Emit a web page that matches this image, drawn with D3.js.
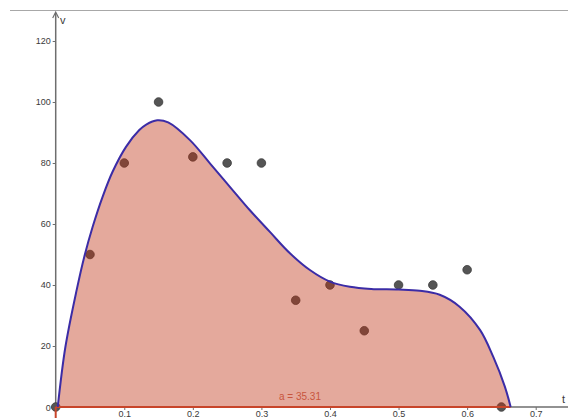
<!DOCTYPE html>
<html>
<head>
<meta charset="utf-8">
<script src="https://cdn.jsdelivr.net/npm/d3@7"></script>
<style>
  html, body { margin: 0; padding: 0; background: #fff; }
  svg { display: block; font-family: "Liberation Sans", Arial, sans-serif; }
</style>
</head>
<body>
<div id="chart"></div>
<script>
// measured points (t, v)
const pointT = [0, 0.05, 0.1, 0.15, 0.2, 0.25, 0.3, 0.35, 0.4, 0.45, 0.5, 0.55, 0.6, 0.65];
const pointV = [0, 50, 80, 100, 82, 80, 80, 35, 40, 25, 40, 40, 45, 0];

// fitted curve
const curveT = [0.003, 0.014, 0.0306, 0.0417, 0.0539, 0.0685, 0.0831, 0.1025, 0.1219, 0.132, 0.148, 0.164,
  0.1958, 0.2249, 0.254, 0.2832, 0.3124, 0.3416, 0.3707, 0.3999, 0.429, 0.46, 0.5, 0.531, 0.56,
  0.589, 0.619, 0.638, 0.655, 0.6635];
const curveV = [0, 19.5, 38.4, 49.3, 59.1, 69.0, 77.2, 85.3, 90.8, 92.6, 94.0, 93.3,
  87.5, 79.9, 72.2, 64.5, 57.4, 50.4, 44.9, 41.1, 39.4, 38.7, 38.5, 38.1, 36.8,
  32.9, 25.2, 16.5, 6.7, 0];

const xTicks = [0.1, 0.2, 0.3, 0.4, 0.5, 0.6, 0.7];
const yTicks = [20, 40, 60, 80, 100, 120];
const areaLabel = 'a = 35.31';

const width = 568, height = 418;

const svg = d3.select('#chart').append('svg')
  .attr('width', width)
  .attr('height', height);

const x = d3.scaleLinear().domain([0, 0.7]).range([55.7, 535.7]);
const y = d3.scaleLinear().domain([0, 120]).range([407, 41]);

// top frame line
svg.append('line')
  .attr('x1', 10).attr('x2', width)
  .attr('y1', 10.5).attr('y2', 10.5)
  .attr('stroke', '#a8a8a8').attr('stroke-width', 1);

// axes lines
const axisColor = '#6e6e6e';
svg.append('line')
  .attr('x1', x(0)).attr('x2', width)
  .attr('y1', y(0)).attr('y2', y(0))
  .attr('stroke', axisColor).attr('stroke-width', 1.5);
svg.append('line')
  .attr('x1', x(0)).attr('x2', x(0))
  .attr('y1', y(0)).attr('y2', 13)
  .attr('stroke', axisColor).attr('stroke-width', 1.5);
svg.append('path')
  .attr('d', `M${x(0) - 3},18 L${x(0)},12 L${x(0) + 3},18`)
  .attr('fill', 'none').attr('stroke', axisColor).attr('stroke-width', 1.2);

// tick marks + labels
const yAxis = d3.axisLeft(y).tickValues(yTicks).tickSize(3).tickPadding(2);
const gy = svg.append('g').attr('transform', `translate(${x(0)},0)`).call(yAxis);
const xAxis = d3.axisBottom(x).tickValues(xTicks).tickSize(3).tickPadding(1).tickFormat(d3.format('.1f'));
const gx = svg.append('g').attr('transform', `translate(0,${y(0)})`).call(xAxis);
[gx, gy].forEach(g => {
  g.select('.domain').remove();
  g.selectAll('line').attr('stroke', axisColor).attr('stroke-width', 1);
  g.selectAll('text').attr('fill', '#3a3a3a').style('font-size', '9px')
    .style('font-family', '"Liberation Sans", Arial, sans-serif');
});
svg.append('text')
  .attr('x', x(0) - 5).attr('y', y(0) + 3.5)
  .attr('text-anchor', 'end')
  .attr('fill', '#3a3a3a').style('font-size', '9px')
  .text('0');

svg.append('text').attr('x', 60).attr('y', 24)
  .attr('fill', '#3a3a3a').style('font-size', '11px').text('v');
svg.append('text').attr('x', 562).attr('y', 403)
  .attr('fill', '#3a3a3a').style('font-size', '11px').text('t');

// points (drawn below the shaded area)
const pts = pointT.map((t, i) => ({ t, v: pointV[i] }));
svg.append('g')
  .selectAll('circle')
  .data(pts)
  .enter().append('circle')
    .attr('cx', d => x(d.t))
    .attr('cy', d => y(d.v))
    .attr('r', 4.3)
    .attr('fill', '#555555')
    .attr('stroke', '#3a3a3a')
    .attr('stroke-width', 0.8);

// shaded integral region
const curve = curveT.map((t, i) => ({ t, v: curveV[i] }));
const smooth = d3.curveCatmullRom.alpha(0.5);
const area = d3.area()
  .x(d => x(d.t))
  .y0(y(0))
  .y1(d => y(d.v))
  .curve(smooth);
svg.append('path')
  .datum(curve)
  .attr('d', area)
  .attr('fill', 'rgb(190,50,20)')
  .attr('fill-opacity', 0.42);

// bottom edge of region
svg.append('line')
  .attr('x1', x(0)).attr('x2', x(curveT[curveT.length - 1]))
  .attr('y1', y(0)).attr('y2', y(0))
  .attr('stroke', '#c8452a').attr('stroke-width', 2);
svg.append('line')
  .attr('x1', x(0)).attr('x2', x(0))
  .attr('y1', y(0)).attr('y2', height)
  .attr('stroke', '#c8452a').attr('stroke-width', 2);

// fitted curve
const line = d3.line()
  .x(d => x(d.t))
  .y(d => y(d.v))
  .curve(smooth);
svg.append('path')
  .datum(curve)
  .attr('d', line)
  .attr('fill', 'none')
  .attr('stroke', '#3b2ca6')
  .attr('stroke-width', 2);

svg.append('text')
  .attr('x', 279).attr('y', 400)
  .attr('fill', '#c8553d')
  .style('font-size', '10px')
  .text(areaLabel);
</script>
</body>
</html>
